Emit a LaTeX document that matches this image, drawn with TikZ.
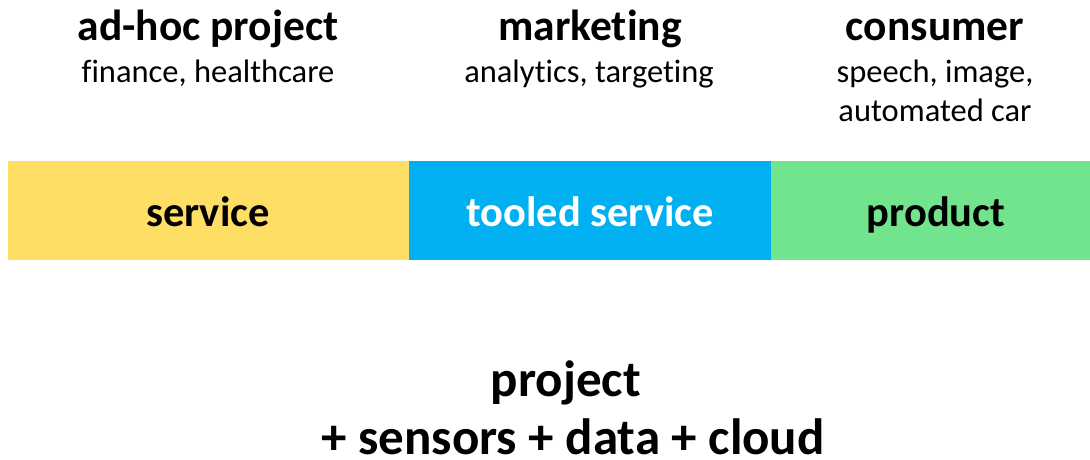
\documentclass[tikz,border=0pt]{standalone}
\usepackage{fontspec}
\setmainfont{Carlito}[Ligatures=NoCommon]
\definecolor{cyel}{RGB}{255,222,102}
\definecolor{cblu}{RGB}{0,176,240}
\definecolor{cgrn}{RGB}{114,228,142}
\begin{document}
\begin{tikzpicture}[x=1pt,y=-1pt,
  head/.style={font=\fontsize{43.5}{50}\selectfont\bfseries, inner sep=0pt, anchor=base},
  sub/.style={font=\fontsize{32.5}{39}\selectfont, inner sep=0pt, anchor=base, align=center},
  bartext/.style={font=\fontsize{42.5}{50}\selectfont\bfseries, inner sep=0pt, anchor=base},
  big/.style={font=\fontsize{51}{60}\selectfont\bfseries, inner sep=0pt, anchor=base}]
\useasboundingbox (0,0) rectangle (1090,459);
\fill[cyel] (8,161) rectangle (409,259.7);
\fill[cblu] (409,161) rectangle (771,259.7);
\fill[cgrn] (771,161) rectangle (1090,259.7);
\node[head] (h1) at (208,40) {ad-hoc project};
\node[sub] (s1) at (208,82) {finance, healthcare};
\node[head] (h2) at (590,40) {marketing};
\node[sub] (s2) at (589,82) {analytics, targeting};
\node[head] (h3) at (935,40) {consumer};
\node[sub] (s3) at (935,82) {speech, image,};
\node[sub] (s4) at (935,121) {automated car};
\node[bartext] (b1) at (208,226) {service};
\node[bartext, text=white] (b2) at (590,226) {tooled service};
\node[bartext] (b3) at (936,226) {product};
\node[big] (p1) at (566,396) {project};
\node[big] (p2) at (573,454) {+ sensors + data + cloud};
\end{tikzpicture}
\end{document}
